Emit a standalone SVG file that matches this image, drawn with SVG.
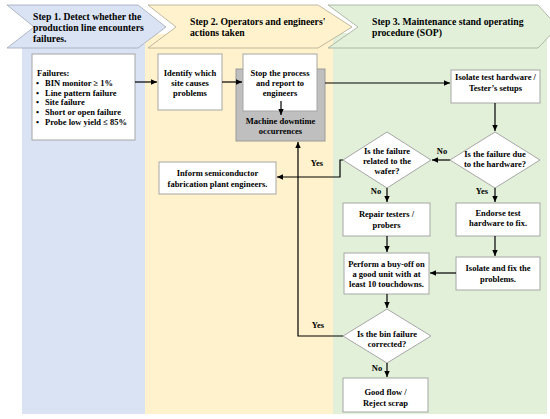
<svg xmlns="http://www.w3.org/2000/svg" width="550" height="419" viewBox="0 0 550 419">
<defs>
<marker id="ah" viewBox="0 0 10 10" refX="10" refY="5" markerWidth="6" markerHeight="6" markerUnits="userSpaceOnUse" orient="auto">
<path d="M0,0.5 L10,5 L0,9.5 z" fill="#000"/>
</marker>
</defs>
<style>
text{font-family:"Liberation Serif","Times New Roman",serif;font-weight:bold;fill:#000}
.h{font-size:9.7px}
.t{font-size:8.5px;text-anchor:middle}
.l{font-size:8.5px}
.box{fill:#fff;stroke:#a6a6a6;stroke-width:1}
.conn path{fill:none;stroke:#000;stroke-width:1.2}
.arr{marker-end:url(#ah)}
</style>
<!-- columns -->
<rect x="22" y="44" width="123" height="370" fill="#dae3f3"/>
<rect x="145" y="34" width="188" height="380" fill="#fff2cc"/>
<rect x="333" y="33" width="214" height="381" fill="#e2f0d9"/>
<!-- header chevrons -->
<g id="step1">
<polygon points="7,5 138,5 166,27 138,48 7,48 34,27" fill="#dae3f3" stroke="#a0a8b8" stroke-width="0.8"/>
<text class="h" x="33" y="19.5">Step 1. Detect whether the</text>
<text class="h" x="33" y="30.5">production line encounters</text>
<text class="h" x="33" y="41.5">failures.</text>
</g>
<g id="step2">
<polygon points="148,5 318,5 352,27 318,48 148,48 176,27" fill="#fff2cc" stroke="#b0a890" stroke-width="0.8"/>
<text class="h" x="190" y="25">Step 2. Operators and engineers'</text>
<text class="h" x="190" y="36">actions taken</text>
</g>
<g id="step3">
<polygon points="328,5 538,5 558,27 538,48 328,48 358,27" fill="#e2f0d9" stroke="#a0aa9c" stroke-width="0.8"/>
<text class="h" x="372" y="24.5">Step 3. Maintenance stand operating</text>
<text class="h" x="372" y="35.5">procedure (SOP)</text>
</g>
<!-- nodes -->
<g id="failures">
<rect class="box" x="32" y="54" width="103" height="86"/>
<text class="l" x="37" y="76.3">Failures:</text>
<text class="l" x="36" y="86.3">•</text><text class="l" x="45" y="86.3">BIN monitor ≥ 1%</text>
<text class="l" x="36" y="95.8">•</text><text class="l" x="45" y="95.8">Line pattern failure</text>
<text class="l" x="36" y="105.3">•</text><text class="l" x="45" y="105.3">Site failure</text>
<text class="l" x="36" y="115.2">•</text><text class="l" x="45" y="115.2">Short or open failure</text>
<text class="l" x="36" y="124.7">•</text><text class="l" x="45" y="124.7">Probe low yield ≤ 85%</text>
</g>
<g id="identify">
<rect class="box" x="158" y="54" width="64" height="56"/>
<text class="t" x="190" y="76">Identify which</text>
<text class="t" x="190" y="86">site causes</text>
<text class="t" x="190" y="96">problems</text>
</g>
<g id="downtime">
<rect x="236" y="69" width="89" height="72" fill="#bfbfbf" stroke="#9a9a9a" stroke-width="1"/>
<text class="t" x="280.5" y="124">Machine downtime</text>
<text class="t" x="280.5" y="134">occurrences</text>
</g>
<g id="stop">
<rect class="box" x="243" y="54" width="74" height="57"/>
<text class="t" x="280" y="76">Stop the process</text>
<text class="t" x="280" y="86">and report to</text>
<text class="t" x="280" y="96">engineers</text>
</g>
<g id="isolate">
<rect class="box" x="451" y="70" width="89" height="33"/>
<text class="t" x="495.5" y="80">Isolate test hardware /</text>
<text class="t" x="495.5" y="91">Tester’s setups</text>
</g>
<g id="hardware">
<polygon points="495,132 540,160 495,188 450,160" fill="#fff" stroke="#a6a6a6" stroke-width="1"/>
<text class="t" x="495" y="157">Is the failure due</text>
<text class="t" x="495" y="166.5">to the hardware?</text>
</g>
<g id="wafer">
<polygon points="387,132 431,160 387,188 343,160" fill="#fff" stroke="#a6a6a6" stroke-width="1"/>
<text class="t" x="387" y="154">Is the failure</text>
<text class="t" x="387" y="164">related to the</text>
<text class="t" x="387" y="173.5">wafer?</text>
</g>
<g id="inform">
<rect class="box" x="159" y="162" width="117" height="32"/>
<text class="t" x="217.5" y="176">Inform semiconductor</text>
<text class="t" x="217.5" y="186.5">fabrication plant engineers.</text>
</g>
<g id="repair">
<rect class="box" x="343" y="203" width="87" height="33"/>
<text class="t" x="386.5" y="216.5">Repair testers /</text>
<text class="t" x="386.5" y="227.5">probers</text>
</g>
<g id="endorse">
<rect class="box" x="456" y="203" width="84" height="33"/>
<text class="t" x="498" y="215.5">Endorse test</text>
<text class="t" x="498" y="226">hardware to fix.</text>
</g>
<g id="isolatefix">
<rect class="box" x="456" y="257" width="84" height="33"/>
<text class="t" x="498" y="271">Isolate and fix the</text>
<text class="t" x="498" y="282">problems.</text>
</g>
<g id="perform">
<rect class="box" x="344" y="253" width="85" height="41"/>
<text class="t" x="386.5" y="266.5">Perform a buy-off on</text>
<text class="t" x="386.5" y="276.5">a good unit with at</text>
<text class="t" x="386.5" y="286.5">least 10 touchdowns.</text>
</g>
<g id="corrected">
<polygon points="387,309 431,336 387,363 343,336" fill="#fff" stroke="#a6a6a6" stroke-width="1"/>
<text class="t" x="387" y="337">Is the bin failure</text>
<text class="t" x="387" y="347">corrected?</text>
</g>
<g id="goodflow">
<rect class="box" x="343" y="378" width="85" height="34"/>
<text class="t" x="385.5" y="395">Good flow /</text>
<text class="t" x="385.5" y="406">Reject scrap</text>
</g>
<!-- connectors -->
<g id="connectors" class="conn">
<path class="arr" d="M135,82 H157"/>
<path class="arr" d="M222,82 H242"/>
<path class="arr" d="M281,101 V115"/>
<path class="arr" d="M325,83 H450"/>
<path class="arr" d="M495,103 V131"/>
<path class="arr" d="M450,160 H432"/>
<path class="arr" d="M343,160 H340 V177 H277"/>
<path class="arr" d="M387,188 V202"/>
<path class="arr" d="M495,188 V202"/>
<path class="arr" d="M387,236 V252"/>
<path class="arr" d="M495,236 V256"/>
<path class="arr" d="M456,273 H430"/>
<path class="arr" d="M387,294 V308"/>
<path class="arr" d="M387,363 V377"/>
<path class="arr" d="M343,336 H298 V142"/>
<text class="t" x="317" y="166">Yes</text>
<text class="t" x="442" y="153.5">No</text>
<text class="t" x="376" y="194">No</text>
<text class="t" x="482" y="194">Yes</text>
<text class="t" x="318" y="328">Yes</text>
<text class="t" x="377" y="371">No</text>
</g>
</svg>
